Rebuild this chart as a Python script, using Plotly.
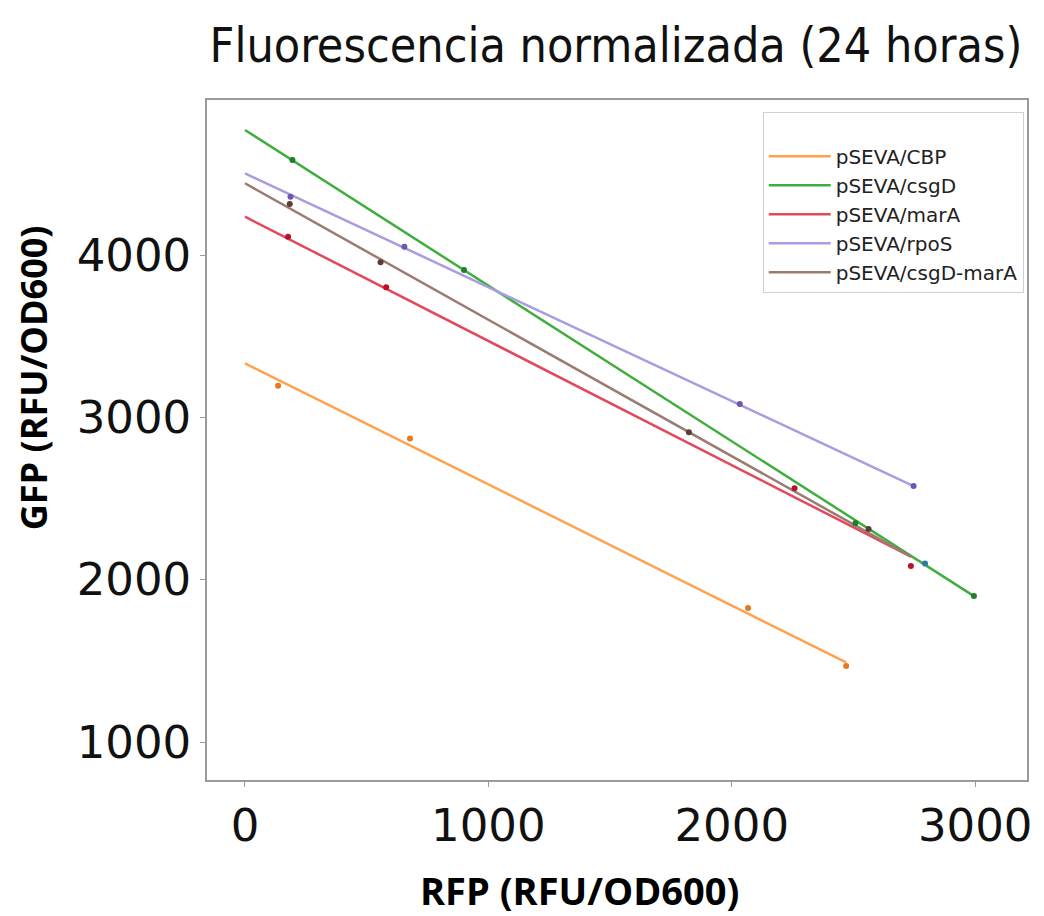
import plotly.graph_objects as go

# ---- data ----
series_names = ["pSEVA/CBP", "pSEVA/csgD", "pSEVA/marA", "pSEVA/rpoS", "pSEVA/csgD-marA"]

# measured points (RFP, GFP)
cbp_rfp = [136, 678, 2067, 2470]
cbp_gfp = [3195, 2870, 1825, 1468]
csgd_rfp = [195, 900, 2508, 2995]
csgd_gfp = [4585, 3908, 2347, 1899]
mara_rfp = [177, 580, 2258, 2736]
mara_gfp = [4113, 3801, 2563, 2084]
rpos_rfp = [187, 655, 2033, 2747]
rpos_gfp = [4359, 4051, 3082, 2577]
csgdmara_rfp = [184, 557, 1824, 2562]
csgdmara_gfp = [4314, 3955, 2908, 2312]
extra_rfp = [2794]
extra_gfp = [2100]

# fitted lines (start / end)
cbp_fit_x = [0, 2470]
cbp_fit_y = [3333, 1490]
csgd_fit_x = [0, 2995]
csgd_fit_y = [4770, 1899]
mara_fit_x = [0, 2736]
mara_fit_y = [4236, 2142]
rpos_fit_x = [0, 2747]
rpos_fit_y = [4503, 2577]
csgdmara_fit_x = [0, 2736]
csgdmara_fit_y = [4442, 2142]

x_ticks = [0, 1000, 2000, 3000]
y_ticks = [1000, 2000, 3000, 4000]

# ---- styles ----
line_colors = ["#ffa24f", "#3fae3f", "#e2495c", "#a99de0", "#9c7b73"]
marker_colors = ["#e8781a", "#1f7f2a", "#b5142a", "#6e55ad", "#5d3d33"]

fits = [
    (cbp_fit_x, cbp_fit_y),
    (csgd_fit_x, csgd_fit_y),
    (mara_fit_x, mara_fit_y),
    (rpos_fit_x, rpos_fit_y),
    (csgdmara_fit_x, csgdmara_fit_y),
]
points = [
    (cbp_rfp, cbp_gfp),
    (csgd_rfp, csgd_gfp),
    (mara_rfp, mara_gfp),
    (rpos_rfp, rpos_gfp),
    (csgdmara_rfp, csgdmara_gfp),
]

fig = go.Figure()
for name, (fx, fy), lc in zip(series_names, fits, line_colors):
    fig.add_trace(go.Scatter(x=fx, y=fy, mode="lines", name=name,
                             line=dict(color=lc, width=2.5)))
for (px, py), mc in zip(points, marker_colors):
    fig.add_trace(go.Scatter(x=px, y=py, mode="markers", showlegend=False,
                             marker=dict(color=mc, size=6, line=dict(width=0))))
fig.add_trace(go.Scatter(x=extra_rfp, y=extra_gfp, mode="markers", showlegend=False,
                         marker=dict(color="#2a7ab0", size=6, line=dict(width=0))))

axis_common = dict(
    showline=True, mirror=True, linecolor="#9a9a9a", linewidth=1.5,
    showgrid=False, zeroline=False,
    ticks="outside", ticklen=5, tickcolor="#9a9a9a", tickwidth=1.2,
    tickfont=dict(family="DejaVu Sans", size=45, color="#111111"),
)

fig.update_layout(
    width=1044, height=916,
    paper_bgcolor="white", plot_bgcolor="white",
    margin=dict(l=207, r=14, t=100, b=136),
    title=dict(text="Fluorescencia normalizada (24 horas)",
               font=dict(family="DejaVu Sans Condensed, Liberation Sans Narrow, DejaVu Sans", size=48, color="#111111"),
               x=0.59, xanchor="center", y=1 - 45 / 916, yanchor="middle", yref="container"),
    xaxis=dict(range=[-156, 3213], tickvals=x_ticks, ticktext=[str(v) for v in x_ticks], **axis_common),
    yaxis=dict(range=[766, 4955], tickvals=y_ticks, ticktext=[str(v) for v in y_ticks], **axis_common),
    legend=dict(x=0.996, xanchor="right", y=0.982, yanchor="top",
                bgcolor="rgba(255,255,255,0.9)", bordercolor="#d0d0d0", borderwidth=1,
                font=dict(family="DejaVu Sans", size=20, color="#222222"),
                title=dict(text=" ", font=dict(size=18)),
                itemwidth=62),
    showlegend=True,
    annotations=[
        dict(text="<b>RFP (RFU/OD600)</b>", xref="paper", yref="paper",
             x=0.454, y=-0.162, xanchor="center", yanchor="middle", showarrow=False,
             font=dict(family="Open Sans", size=38, color="#000000")),
        dict(text="<b>GFP (RFU/OD600)</b>", xref="paper", yref="paper",
             x=-0.212, y=0.591, xanchor="center", yanchor="middle", showarrow=False,
             textangle=-90,
             font=dict(family="Open Sans", size=36, color="#000000")),
    ],
)

fig.write_html("out.html")
